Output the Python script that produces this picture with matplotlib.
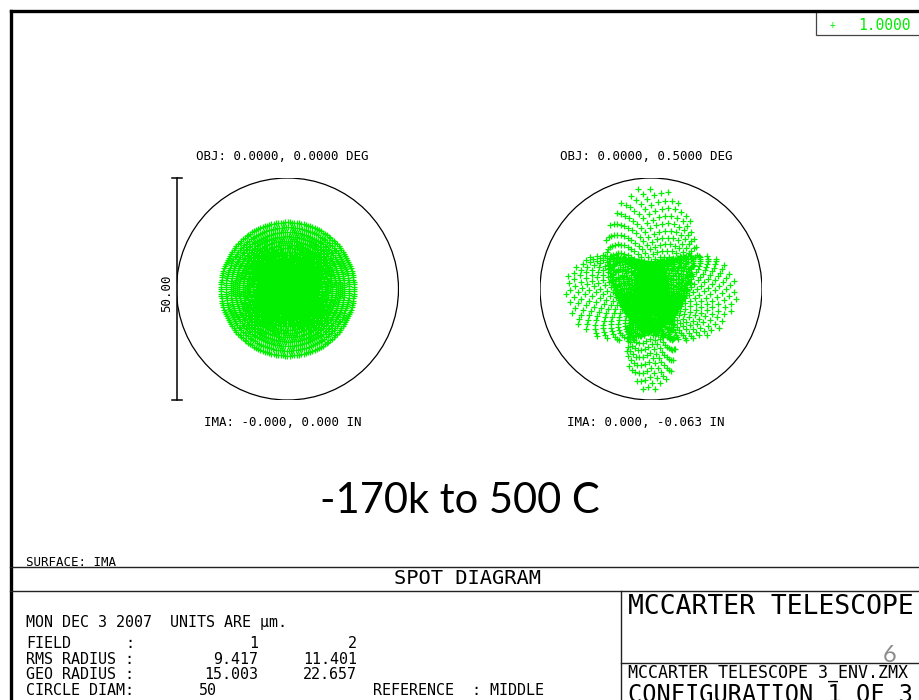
import numpy as np
import matplotlib
matplotlib.use("Agg")
import matplotlib.pyplot as plt
from matplotlib.patches import Circle, Rectangle

# ---- spot diagram data ----
field_ids = [1, 2]
obj_labels = ["OBJ: 0.0000, 0.0000 DEG", "OBJ: 0.0000, 0.5000 DEG"]
ima_labels = ["IMA: -0.000, 0.000 IN", "IMA: 0.000, -0.063 IN"]
rms_radius = [9.417, 11.401]          # um
geo_radius = [15.003, 22.657]         # um
circle_diam = 50.0                    # um
wavelengths = [1.0000]

# wavefront coefficients per field
defocus = [0.35, -0.30]
spherical = [0.65, 0.50]
astigmatism = [0.00, 0.075]
sec_astigmatism = [0.00, -0.03]
quadrafoil = [0.00, 0.30]
coma = [0.00, -0.02]
trefoil = [0.00, -0.05]
sampling = ["hexapolar", "dithered"]
pupil_density = [30, 3200]            # rings / rays

FONT = "DejaVu Sans Mono"
W, H = 919, 700


def pupil(kind, n):
    if kind == "hexapolar":
        pts = [0j]
        for i in range(1, n + 1):
            m = 6 * i
            th = np.arange(m) * 2 * np.pi / m + 0.37 * i
            pts.extend((i / n) * np.exp(1j * th))
        return np.array(pts)
    k = np.arange(n)
    return np.sqrt((k + 0.5) / n) * np.exp(1j * k * np.pi * (3 - np.sqrt(5)))


def trace(i):
    z = pupil(sampling[i], pupil_density[i])
    zb = np.conj(z)
    r2 = np.abs(z) ** 2
    g = (defocus[i] * z + spherical[i] * r2 * z + astigmatism[i] * zb
         + sec_astigmatism[i] * (z ** 3 + 3 * r2 * zb)
         + quadrafoil[i] * zb ** 3 + 1j * coma[i] * (2 * r2 - z ** 2)
         + 1j * trefoil[i] * zb ** 2)
    # reference: middle of the spot
    g = g - complex((g.real.max() + g.real.min()) / 2, (g.imag.max() + g.imag.min()) / 2)
    g = g * geo_radius[i] / np.abs(g).max()
    return g.real, g.imag


fig = plt.figure(figsize=(W / 100, H / 100), dpi=100)
bg = fig.add_axes([0, 0, 1, 1])
bg.set_xlim(0, W)
bg.set_ylim(H, 0)
bg.axis("off")

# outer frame
bg.plot([10.5, 10.5], [H + 5, 10.5], color="black", lw=2.4, solid_capstyle="projecting")
bg.plot([10.5, W + 5], [10.5, 10.5], color="black", lw=2.4, solid_capstyle="projecting")

# wavelength legend
bg.add_patch(Rectangle((815.5, 10.5), 120, 24.5, fill=False, ec="#444444", lw=0.9))
bg.text(833, 25, "+", color="#00ee00", fontsize=7, family=FONT, ha="center", va="center")
bg.text(858, 25, f"{wavelengths[0]:.4f}", color="#00ee00", fontsize=10.5, family=FONT,
        ha="left", va="center")

# spot panels
centers = [(287.5, 289.0), (651.0, 289.0)]
R = 111.0
half = circle_diam / 2
for i, (cx, cy) in enumerate(centers):
    ax = fig.add_axes([(cx - R) / W, 1 - (cy + R) / H, 2 * R / W, 2 * R / H])
    ax.set_xlim(-half, half)
    ax.set_ylim(-half, half)
    ax.axis("off")
    ax.add_patch(Circle((0, 0), half, fill=False, ec="black", lw=0.9))
    x, y = trace(i)
    ax.plot(x, y, "+", color="#00f000", ms=3.7, mew=0.9, ls="none", antialiased=False)
    bg.text(cx - 5, 157, obj_labels[i], fontsize=9, family=FONT, ha="center", va="center")
    bg.text(cx - 5, 423, ima_labels[i], fontsize=9, family=FONT, ha="center", va="center")
    if i == 0:
        # scale bar
        px = half / R
        ax.plot([-half, -half], [-half, half], color="black", lw=1.1, clip_on=False)
        for yy in (-half, half):
            ax.plot([-half - 5 * px, -half + 5 * px], [yy, yy], color="black", lw=1.1, clip_on=False)
        ax.text(-half - 10 * px, -4 * px, f"{circle_diam:.2f}", rotation=90, fontsize=9,
                family=FONT, ha="center", va="center")

# caption
bg.text(460, 513, "-170k to 500 C", fontsize=30, family="Lato", ha="center", va="baseline")

# title block
line = dict(color="#222222", lw=1.0)
bg.plot([10, W], [566.5, 566.5], **line)
bg.plot([10, W], [590.5, 590.5], **line)
bg.plot([621, 621], [590.5, H], **line)
bg.plot([621, W], [663, 663], **line)

bg.text(26, 562, "SURFACE: IMA", fontsize=9, family=FONT, ha="left", va="center")
bg.text(468, 579, "SPOT DIAGRAM", fontsize=14.7, family=FONT, ha="center", va="center")

small = dict(fontsize=10.8, family=FONT, va="center")
rows_y = [643, 659, 674.5, 690.5]
bg.text(26, 622.5, "MON DEC 3 2007  UNITS ARE \u03bcm.", ha="left", **small)
bg.text(26, rows_y[0], "FIELD", ha="left", **small)
bg.text(130, rows_y[0], ":", ha="center", **small)
bg.text(26, rows_y[1], "RMS RADIUS :", ha="left", **small)
bg.text(26, rows_y[2], "GEO RADIUS :", ha="left", **small)
bg.text(26, rows_y[3], "CIRCLE DIAM:", ha="left", **small)
cols_x = [258, 357]
for j in range(2):
    bg.text(cols_x[j], rows_y[0], f"{field_ids[j]}", ha="right", **small)
    bg.text(cols_x[j], rows_y[1], f"{rms_radius[j]:.3f}", ha="right", **small)
    bg.text(cols_x[j], rows_y[2], f"{geo_radius[j]:.3f}", ha="right", **small)
bg.text(199, rows_y[3], f"{circle_diam:.0f}", ha="left", **small)
bg.text(373, rows_y[3], "REFERENCE  : MIDDLE", ha="left", **small)

bg.text(628, 607, "MCCARTER TELESCOPE", fontsize=19, family=FONT, ha="left", va="center")
bg.text(628, 673, "MCCARTER TELESCOPE 3_ENV.ZMX", fontsize=12, family=FONT, ha="left", va="center")
bg.text(628, 695, "CONFIGURATION 1 OF 3", fontsize=17, family=FONT, ha="left", va="center")
bg.text(890, 656, "6", fontsize=17, family="Lato", color="#8c8c8c", ha="center", va="center")

fig.savefig("out.png", dpi=100)
